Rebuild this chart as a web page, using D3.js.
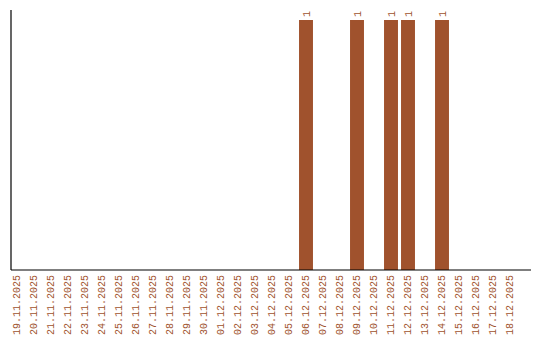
<!DOCTYPE html>
<html>
<head>
<meta charset="utf-8">
<script src="https://cdn.jsdelivr.net/npm/d3@7"></script>
<style>
  body { margin: 0; background: #fff; }
  text { font-family: "Liberation Mono", "DejaVu Sans Mono", monospace; font-size: 10px; fill: #a0522d; }
</style>
</head>
<body>
<div id="graph"></div>
<script>
//dates shown on the x axis
const dates = ["19.11.2025","20.11.2025","21.11.2025","22.11.2025","23.11.2025","24.11.2025",
  "25.11.2025","26.11.2025","27.11.2025","28.11.2025","29.11.2025","30.11.2025","01.12.2025",
  "02.12.2025","03.12.2025","04.12.2025","05.12.2025","06.12.2025","07.12.2025","08.12.2025",
  "09.12.2025","10.12.2025","11.12.2025","12.12.2025","13.12.2025","14.12.2025","15.12.2025",
  "16.12.2025","17.12.2025","18.12.2025"];
//count per date
const counts = [0,0,0,0,0,0,0,0,0,0,0,0,0,0,0,0,0,1,0,0,1,0,1,1,0,1,0,0,0,0];

const width = 540, height = 340;
const barColor = "#a0522d";

const svg = d3.select("#graph").append("svg")
    .attr("width", width)
    .attr("height", height);

//scales
const x = d3.scaleBand()
    .domain(dates)
    .range([8.5, 518.5])
    .paddingInner(0.18)
    .paddingOuter(0.09);

const y = d3.scaleLinear()
    .domain([0, 1.04])
    .range([270, 10]);

//bars
svg.append("g").selectAll("rect")
    .data(dates.map(function(d, i){ return {date: d, value: counts[i]}; }).filter(function(d){ return d.value > 0; }))
    .enter().append("rect")
    .attr("x", function(d){ return x(d.date); })
    .attr("y", function(d){ return y(d.value); })
    .attr("width", x.bandwidth())
    .attr("height", function(d){ return y(0) - y(d.value); })
    .attr("fill", barColor);

//value labels
svg.append("g").selectAll("text")
    .data(dates.map(function(d, i){ return {date: d, value: counts[i]}; }).filter(function(d){ return d.value > 0; }))
    .enter().append("text")
    .attr("transform", function(d){
        return "translate(" + (x(d.date) + x.bandwidth() / 2) + "," + (y(d.value) - 3) + ") rotate(-90)";
    })
    .attr("dy", "0.35em")
    .attr("text-anchor", "start")
    .text(function(d){ return d.value; });

//x tick labels
svg.append("g").selectAll("text")
    .data(dates)
    .enter().append("text")
    .attr("transform", function(d){
        return "translate(" + (x(d) + x.bandwidth() / 2 - 1) + ",275) rotate(-90)";
    })
    .attr("dy", "0.35em")
    .attr("text-anchor", "end")
    .text(function(d){ return d; });

//axis lines
svg.append("line")
    .attr("x1", 11).attr("x2", 11)
    .attr("y1", y(1.04)).attr("y2", y(0))
    .attr("stroke", "#000").attr("stroke-width", 1.2);

svg.append("line")
    .attr("x1", 11).attr("x2", 531)
    .attr("y1", y(0)).attr("y2", y(0))
    .attr("stroke", "#000").attr("stroke-width", 1.2);
</script>
</body>
</html>
